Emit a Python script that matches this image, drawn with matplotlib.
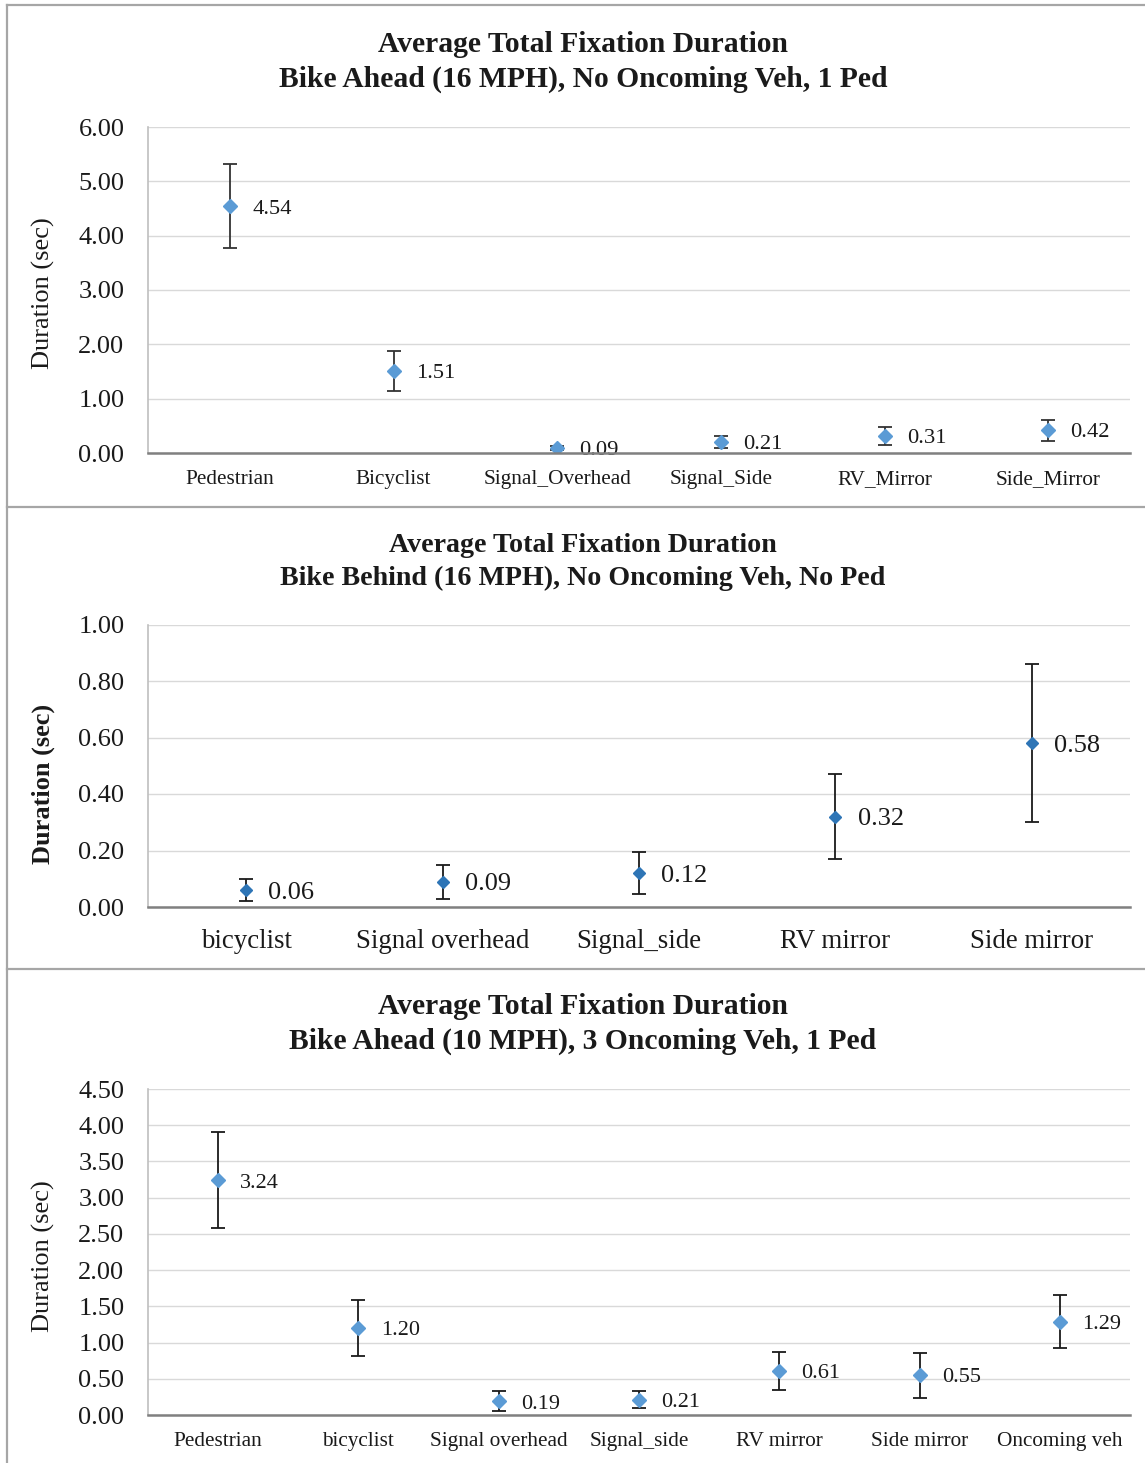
import matplotlib
matplotlib.use("Agg")
import matplotlib.pyplot as plt
from matplotlib.lines import Line2D
import numpy as np

plt.rcParams['font.family'] = ['Liberation Serif', 'DejaVu Serif']

# ---------- data ----------
titles1 = ["Average Total Fixation Duration", "Bike Ahead (16 MPH), No Oncoming Veh, 1 Ped"]
cats1 = ["Pedestrian", "Bicyclist", "Signal_Overhead", "Signal_Side", "RV_Mirror", "Side_Mirror"]
vals1 = [4.54, 1.51, 0.09, 0.21, 0.31, 0.42]
err1 = [0.77, 0.37, 0.03, 0.11, 0.16, 0.19]
yticks1 = [0, 1, 2, 3, 4, 5, 6]

titles2 = ["Average Total Fixation Duration", "Bike Behind (16 MPH), No Oncoming Veh, No Ped"]
cats2 = ["bicyclist", "Signal overhead", "Signal_side", "RV mirror", "Side mirror"]
vals2 = [0.06, 0.09, 0.12, 0.32, 0.58]
err2 = [0.04, 0.06, 0.075, 0.15, 0.28]
yticks2 = [0.0, 0.2, 0.4, 0.6, 0.8, 1.0]

titles3 = ["Average Total Fixation Duration", "Bike Ahead (10 MPH), 3 Oncoming Veh, 1 Ped"]
cats3 = ["Pedestrian", "bicyclist", "Signal overhead", "Signal_side", "RV mirror", "Side mirror", "Oncoming veh"]
vals3 = [3.24, 1.20, 0.19, 0.21, 0.61, 0.55, 1.29]
err3 = [0.66, 0.39, 0.14, 0.115, 0.26, 0.31, 0.37]
yticks3 = [0, 0.5, 1.0, 1.5, 2.0, 2.5, 3.0, 3.5, 4.0, 4.5]

W, H = 1145, 1463
fig = plt.figure(figsize=(W / 100, H / 100), dpi=100)

def px_x(x):
    return x / W

def px_y(y):
    return 1 - y / H

def make_panel(top, bottom, cats, vals, errs, yticks, titles, title_y, ylabel_y,
               color, ms, tick_fs, xlab_fs, lab_fs, ylab_bold, xlab_pad, ecolor, title_fs):
    ax = fig.add_axes([px_x(148), px_y(bottom), (1130 - 148) / W, (bottom - top) / H])
    x = np.arange(len(cats))
    ax.errorbar(x, vals, yerr=errs, fmt='D', color=color, ms=ms, mec=color,
                ecolor=ecolor, elinewidth=1.3, capsize=5, capthick=1.3, zorder=3)
    for xi, v in zip(x, vals):
        ax.annotate(f"{v:.2f}", (xi, v), xytext=(16, -2), textcoords='offset points',
                    ha='left', va='center', fontsize=lab_fs, color='#1a1a1a')
    ax.set_xlim(-0.5, len(cats) - 0.5)
    ax.set_ylim(yticks[0], yticks[-1])
    ax.set_yticks(yticks)
    ax.set_yticklabels([f"{t:.2f}" for t in yticks], fontsize=tick_fs)
    ax.set_xticks(x)
    ax.set_xticklabels(cats, fontsize=xlab_fs)
    ax.tick_params(axis='both', length=0, colors='#1a1a1a')
    ax.tick_params(axis='y', pad=17)
    ax.tick_params(axis='x', pad=xlab_pad)
    ax.yaxis.grid(True, color='#d9d9d9', lw=1.0)
    ax.set_axisbelow(True)
    for s in ['top', 'right']:
        ax.spines[s].set_visible(False)
    ax.spines['left'].set_color('#bfbfbf')
    ax.spines['left'].set_linewidth(1.2)
    ax.spines['bottom'].set_color('#808080')
    ax.spines['bottom'].set_linewidth(1.8)
    ax.spines['bottom'].set_zorder(4)
    fig.text(px_x(583), px_y(title_y[0]), titles[0], ha='center', va='center',
             fontsize=title_fs, fontweight='bold', color='#1a1a1a')
    fig.text(px_x(583), px_y(title_y[1]), titles[1], ha='center', va='center',
             fontsize=title_fs, fontweight='bold', color='#1a1a1a')
    fig.text(px_x(43), px_y(ylabel_y), "Duration (sec)", rotation=90, ha='center', va='center',
             fontsize=19, fontweight='bold' if ylab_bold else 'normal', color='#1a1a1a')
    return ax

make_panel(127, 453, cats1, vals1, err1, yticks1, titles1, (45, 79), 293,
           '#5b9bd5', 7.5, 19, 15.3, 16.2, False, 12, '#333333', 21.3)
make_panel(624.5, 907, cats2, vals2, err2, yticks2, titles2, (545, 578), 784,
           '#2e75b6', 6.5, 19, 19.4, 19, True, 16, '#1a1a1a', 20.2)
make_panel(1089, 1415, cats3, vals3, err3, yticks3, titles3, (1007, 1041), 1256,
           '#5b9bd5', 7.0, 19, 15.3, 16, False, 12, '#1a1a1a', 21.3)

# panel borders
bc = '#a6a6a6'
for y in (5, 507, 969):
    fig.add_artist(Line2D([px_x(7), 1], [px_y(y), px_y(y)], color=bc, lw=1.6))
fig.add_artist(Line2D([px_x(7), px_x(7)], [px_y(5), 0], color=bc, lw=1.6))

fig.savefig("out.png", dpi=100)
